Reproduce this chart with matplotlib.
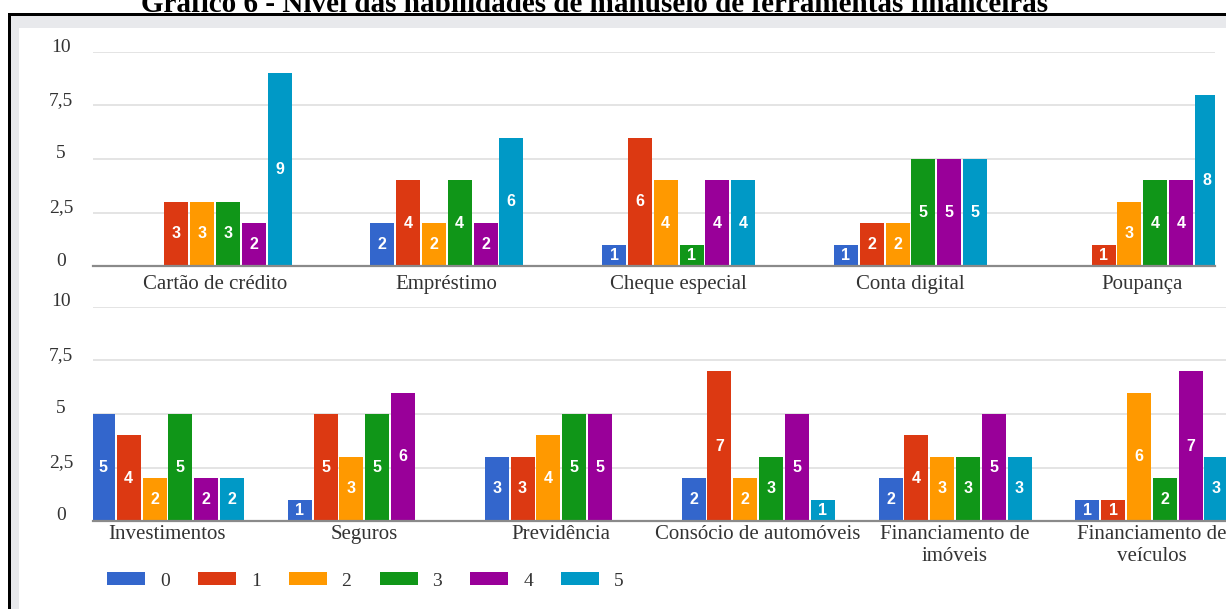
import matplotlib
matplotlib.use("Agg")
import matplotlib.pyplot as plt
import matplotlib.transforms as mtransforms
from matplotlib.patches import Rectangle

# ---- data -------------------------------------------------------------
levels = ["0", "1", "2", "3", "4", "5"]
colors = ["#3366CC", "#DC3912", "#FF9900", "#109618", "#990099", "#0099C6"]

top_categories = ["Cartão de crédito", "Empréstimo", "Cheque especial",
                  "Conta digital", "Poupança"]
# one row per category, one column per level 0..5
top_values = [
    [0, 3, 3, 3, 2, 9],
    [2, 4, 2, 4, 2, 6],
    [1, 6, 4, 1, 4, 4],
    [1, 2, 2, 5, 5, 5],
    [0, 1, 3, 4, 4, 8],
]

bottom_categories = ["Investimentos", "Seguros", "Previdência",
                     "Consócio de automóveis", "Financiamento de\nimóveis",
                     "Financiamento de\nveículos"]
bottom_values = [
    [5, 4, 2, 5, 2, 2],
    [1, 5, 3, 5, 6, 0],
    [3, 3, 4, 5, 5, 0],
    [2, 7, 2, 3, 5, 1],
    [2, 4, 3, 3, 5, 3],
    [1, 1, 6, 2, 7, 3],
]

y_ticks = [0, 2.5, 5, 7.5, 10]
y_tick_labels = ["0", "2,5", "5", "7,5", "10"]

title = "Gráfico 6 - Nível das habilidades de manuseio de ferramentas financeiras"

# ---- layout -----------------------------------------------------------
W, H = 1226, 609
DPI = 100
SERIF = "Liberation Serif"
TEXT = "#333333"

fig = plt.figure(figsize=(W / DPI, H / DPI), dpi=DPI)
fig.patch.set_facecolor("white")


def px_rect(x0, y0, x1, y1, color, z=0):
    """Rectangle given in pixel coords measured from the top-left corner."""
    r = Rectangle((x0 / W, 1 - y1 / H), (x1 - x0) / W, (y1 - y0) / H,
                  transform=fig.transFigure, facecolor=color,
                  edgecolor="none", zorder=z)
    fig.add_artist(r)


# frame around the chart (black edge + light grey inner band)
px_rect(11, 16, W, 28, "#e8e9ec")
px_rect(11, 16, 19, H, "#e8e9ec")
px_rect(8, 13, W, 16, "black")
px_rect(8, 13, 11, H, "black")

fig.text(595 / W, 1 - 12 / H, title, ha="center", va="baseline",
         fontsize=21, fontweight="bold", family=SERIF, color="black")

BAR_STRIDE_PX = 25.8
BAR_WIDTH_PX = 24.0


def draw_panel(left, top, right, bottom, first_center, spacing,
               categories, values, pad):
    ax = fig.add_axes([left / W, 1 - bottom / H,
                       (right - left) / W, (bottom - top) / H])
    n = len(categories)
    ax.set_xlim((left - first_center) / spacing,
                (right - first_center) / spacing)
    ax.set_ylim(0, 10)
    stride = BAR_STRIDE_PX / spacing
    width = BAR_WIDTH_PX / spacing

    for j, (lvl, col) in enumerate(zip(levels, colors)):
        xs = [k + (j - 2.5) * stride for k in range(n)]
        hs = [row[j] for row in values]
        ax.bar(xs, hs, width=width, color=col, zorder=2, label=lvl)
        for x, h in zip(xs, hs):
            if h > 0:
                ax.text(x, h / 2, str(h), ha="center", va="center",
                        color="white", fontsize=11.5, fontweight="bold",
                        family="Liberation Sans", zorder=3)

    ax.set_yticks(y_ticks)
    ax.yaxis.grid(True, color="#e2e2e2", lw=1.3, zorder=0)
    ax.tick_params(axis="y", length=0, labelleft=False)
    ax.axhline(0, color="#8a8a8a", lw=1.6, zorder=4, clip_on=False)
    for s in ax.spines.values():
        s.set_visible(False)

    trans = mtransforms.offset_copy(ax.get_yaxis_transform(), fig=fig,
                                    x=-(left - 61), y=5, units="dots")
    for v, lab in zip(y_ticks, y_tick_labels):
        ax.text(0, v, lab, transform=trans, ha="center", va="center",
                fontsize=14, family=SERIF, color=TEXT, clip_on=False)

    ax.set_xticks(range(n))
    ax.set_xticklabels(categories, fontsize=15, family=SERIF, color=TEXT,
                       linespacing=1.2)
    ax.tick_params(axis="x", length=0, pad=pad)
    return ax


ax_top = draw_panel(93, 52, 1215, 266, 215, 231.8,
                    top_categories, top_values, pad=6.5)
ax_bot = draw_panel(93, 307, 1232, 521, 167.4, 196.9,
                    bottom_categories, bottom_values, pad=3)

# legend along the bottom
fs_pt = 14
fs_px = fs_pt * DPI / 72
handles = [Rectangle((0, 0), 1, 1, facecolor=c, edgecolor="none")
           for c in colors]
leg = fig.legend(handles, levels, ncol=6, loc="center left",
                 bbox_to_anchor=(107 / W, 1 - 581 / H), frameon=False,
                 borderpad=0, borderaxespad=0,
                 handlelength=38 / fs_px, handleheight=12 / fs_px,
                 handletextpad=15 / fs_px, columnspacing=28 / fs_px,
                 prop={"family": SERIF, "size": fs_pt})
for t in leg.get_texts():
    t.set_color(TEXT)

fig.savefig("out.png", dpi=DPI)
